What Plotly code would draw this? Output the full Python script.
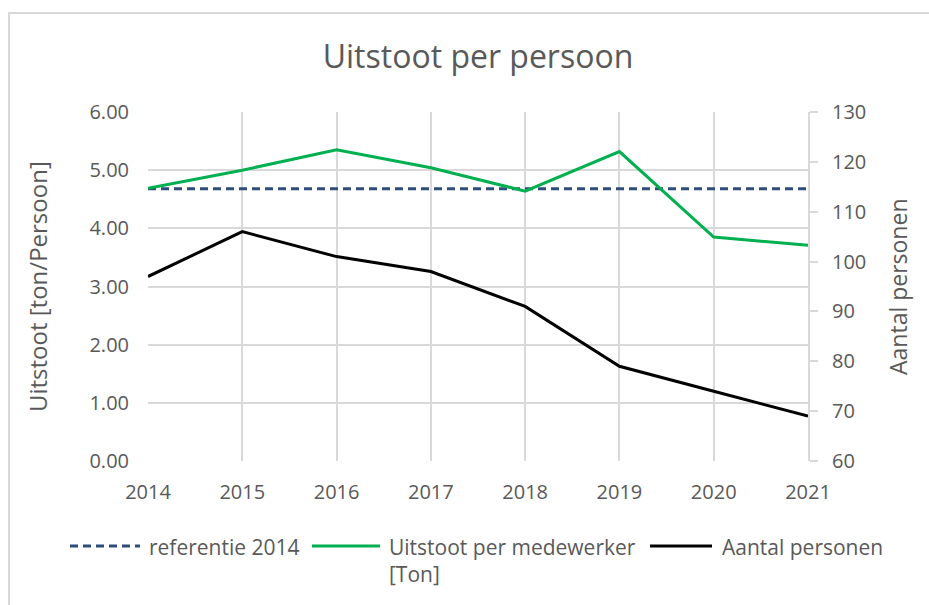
import plotly.graph_objects as go

years = [2014, 2015, 2016, 2017, 2018, 2019, 2020, 2021]
referentie_2014 = [4.68, 4.68, 4.68, 4.68, 4.68, 4.68, 4.68, 4.68]
uitstoot_per_medewerker = [4.69, 5.00, 5.35, 5.04, 4.64, 5.32, 3.85, 3.71]
aantal_personen = [97, 106, 101, 98, 91, 79, 74, 69]

left_ticks = [0, 1, 2, 3, 4, 5, 6]
left_labels = ["0.00", "1.00", "2.00", "3.00", "4.00", "5.00", "6.00"]
right_ticks = [60, 70, 80, 90, 100, 110, 120, 130]

FONT = "Open Sans"
TXT = "#595959"
GRID = "#d9d9d9"
BLUE = "#2e4d7b"
GREEN = "#00b050"
BLACK = "#000000"

L, R, T, B = 148, 808, 112, 461
W, H = R - L, B - T


def px(x):
    return (x - L) / W


def py(y):
    return (B - y) / H


fig = go.Figure()
fig.add_trace(go.Scatter(x=years, y=referentie_2014, name="referentie 2014", mode="lines",
                         line=dict(color=BLUE, width=3, dash="8px,5px")))
fig.add_trace(go.Scatter(x=years, y=uitstoot_per_medewerker, name="Uitstoot per medewerker [Ton]",
                         mode="lines", line=dict(color=GREEN, width=3)))
fig.add_trace(go.Scatter(x=years, y=aantal_personen, name="Aantal personen", mode="lines",
                         line=dict(color=BLACK, width=3), yaxis="y2"))

# custom legend (Excel-like wide samples)
legend_items = [
    (70, 140, 147, "referentie 2014", BLUE, "8px,5px"),
    (312, 380, 387, "Uitstoot per medewerker<br>[Ton]", GREEN, "solid"),
    (650, 712, 720, "Aantal personen", BLACK, "solid"),
]
leg_y = 546

shapes = [
    dict(type="rect", xref="paper", yref="paper",
         x0=px(9), x1=px(940), y0=py(615), y1=py(13),
         line=dict(color=GRID, width=2), fillcolor="rgba(0,0,0,0)", layer="below"),
]
annotations = [
    dict(text="Uitstoot [ton/Persoon]", xref="paper", yref="paper",
         x=px(37), y=py(287), textangle=-90, showarrow=False,
         xanchor="center", yanchor="middle", font=dict(size=24, color=TXT, family=FONT)),
    dict(text="Aantal personen", xref="paper", yref="paper",
         x=px(898), y=py(287), textangle=-90, showarrow=False,
         xanchor="center", yanchor="middle", font=dict(size=23, color=TXT, family=FONT)),
]
for x0, x1, xt, label, color, dash in legend_items:
    shapes.append(dict(type="line", xref="paper", yref="paper", x0=px(x0), x1=px(x1),
                       y0=py(leg_y), y1=py(leg_y), line=dict(color=color, width=3, dash=dash)))
    annotations.append(dict(text=label, xref="paper", yref="paper", x=px(xt), y=py(leg_y - 15),
                            xanchor="left", yanchor="top", align="left", showarrow=False,
                            font=dict(size=21, color=TXT, family=FONT)))

fig.update_layout(
    width=929, height=605,
    margin=dict(l=L, r=929 - R, t=T, b=605 - B),
    paper_bgcolor="white", plot_bgcolor="white",
    font=dict(family=FONT, color=TXT, size=20),
    title=dict(text="Uitstoot per persoon", x=0.5, xref="paper", xanchor="center",
               y=1 - 57 / 605, yanchor="middle", font=dict(size=32, color=TXT, family=FONT)),
    xaxis=dict(range=[2014, 2021], tickmode="array", tickvals=years, ticktext=[str(y) for y in years],
               showgrid=True, gridcolor=GRID, gridwidth=2, zeroline=False, showline=False,
               ticks="", ticklabelstandoff=17, tickfont=dict(size=20, color=TXT)),
    yaxis=dict(range=[0, 6], tickmode="array", tickvals=left_ticks, ticktext=left_labels,
               showgrid=True, gridcolor=GRID, gridwidth=2, zeroline=False, showline=False,
               ticks="", ticklabelstandoff=18, tickfont=dict(size=20, color=TXT)),
    yaxis2=dict(range=[60, 130], tickmode="array", tickvals=right_ticks, overlaying="y", side="right",
                showgrid=False, zeroline=False, showline=True, linecolor=GRID, linewidth=2,
                ticks="outside", ticklen=8, tickcolor=GRID, tickwidth=2,
                ticklabelstandoff=10, tickfont=dict(size=20, color=TXT)),
    showlegend=False,
    annotations=annotations,
    shapes=shapes,
)

fig.write_html("out.html", config={"displayModeBar": False},
               post_script="document.body.style.margin='0';")
